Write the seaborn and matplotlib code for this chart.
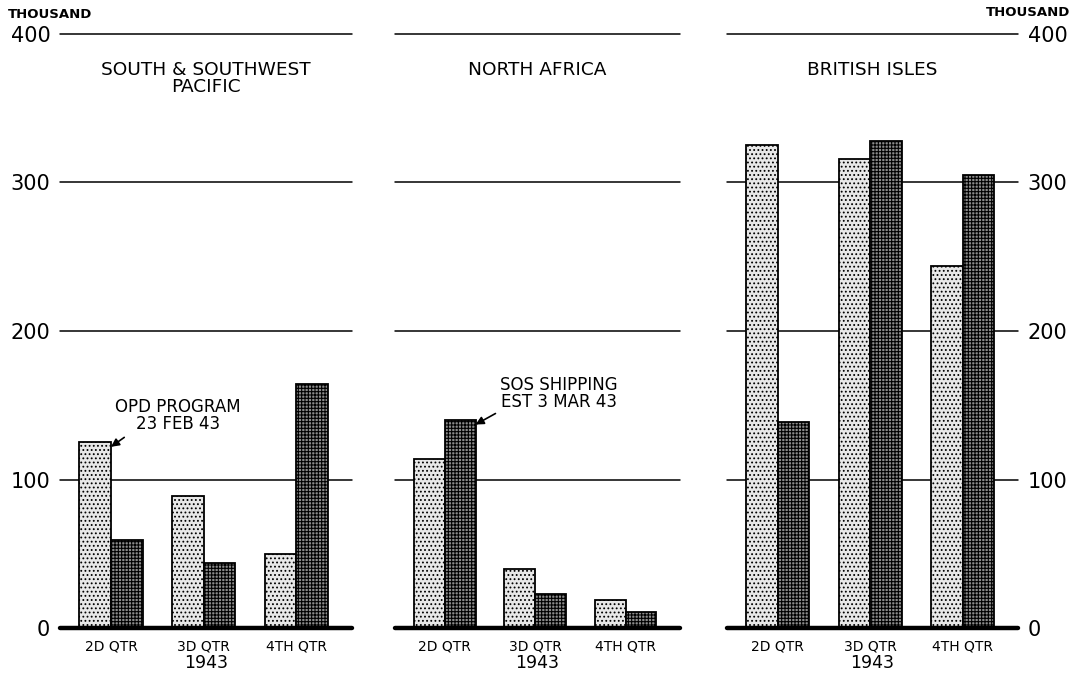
import matplotlib
matplotlib.use("Agg")
import matplotlib.pyplot as plt
import pandas as pd
import seaborn as sns

# values in thousands
theaters = ["SOUTH & SOUTHWEST\nPACIFIC", "NORTH AFRICA", "BRITISH ISLES"]
quarters = ["2D QTR", "3D QTR", "4TH QTR"]
series = ["OPD PROGRAM", "SOS SHIPPING EST"]
opd_program = [[125, 89, 50], [114, 40, 19], [325, 316, 244]]
sos_shipping = [[59, 44, 164], [140, 23, 11], [139, 328, 305]]
y_ticks = [0, 100, 200, 300, 400]

rows = []
for t, theater in enumerate(theaters):
    for q, quarter in enumerate(quarters):
        rows.append({"theater": theater, "quarter": quarter, "series": series[0], "value": opd_program[t][q]})
        rows.append({"theater": theater, "quarter": quarter, "series": series[1], "value": sos_shipping[t][q]})
df = pd.DataFrame(rows)

sns.set_style("white")
plt.rcParams["font.family"] = ["DejaVu Sans"]
plt.rcParams["hatch.linewidth"] = 0.8
plt.rcParams["text.color"] = "black"
plt.rcParams["xtick.color"] = "black"
plt.rcParams["ytick.color"] = "black"
plt.rcParams["axes.labelcolor"] = "black"

fig = plt.figure(figsize=(10.79, 6.77), dpi=100)
W, H = 1079, 677
lefts = [60, 395, 727]
widths = [292, 285, 291]
bottom_px, top_px = 628, 34

fills = {series[0]: ("#e8e8e8", "...."), series[1]: ("#8c8c8c", "+++++")}

for i, theater in enumerate(theaters):
    ax = fig.add_axes([lefts[i] / W, 1 - bottom_px / H, widths[i] / W, (bottom_px - top_px) / H])
    sub = df[df["theater"] == theater]
    sns.barplot(data=sub, x="quarter", y="value", hue="series", hue_order=series,
                order=quarters, width=0.68, gap=0, palette=["white", "white"],
                edgecolor="black", linewidth=1.3, legend=False, ax=ax, zorder=2)
    for cont, name in zip(ax.containers, series):
        fc, hatch = fills[name]
        for bar in cont:
            bar.set_facecolor(fc)
            bar.set_hatch(hatch)

    ax.set_ylim(0, 400)
    ax.set_xlim(-0.55, 2.6)
    for v in y_ticks[1:]:
        ax.axhline(v, color="black", lw=1.1, zorder=0.5, clip_on=False)
    ax.axhline(0, color="black", lw=3.2, zorder=3, clip_on=False)

    for s in ax.spines.values():
        s.set_visible(False)
    ax.set_yticks(y_ticks)
    ax.tick_params(axis="both", length=0)
    ax.tick_params(axis="x", pad=8, labelsize=10)
    ax.set_ylabel("")
    ax.set_xlabel("1943", fontsize=12.5, labelpad=1)
    if i == 0:
        ax.tick_params(axis="y", labelleft=True, labelright=False, pad=7, labelsize=15)
    elif i == 2:
        ax.yaxis.tick_right()
        ax.tick_params(axis="y", labelleft=False, labelright=True, pad=7, labelsize=15)
    else:
        ax.tick_params(axis="y", labelleft=False, labelright=False)

    ax.text(0.5, 0.955, theater, transform=ax.transAxes, ha="center", va="top",
            fontsize=13.3, linespacing=0.95)

    if i == 0:
        ax.annotate("OPD PROGRAM\n23 FEB 43", xy=(0.0, opd_program[0][0] - 3),
                    xytext=(0.72, 143), ha="center", va="center", fontsize=12,
                    linespacing=0.95,
                    arrowprops=dict(arrowstyle="-|>", color="black", lw=1.2,
                                    shrinkA=1, shrinkB=0, relpos=(0.12, 0.0)))
    if i == 1:
        ax.annotate("SOS SHIPPING\nEST 3 MAR 43", xy=(0.34, sos_shipping[1][0] - 3),
                    xytext=(1.26, 158), ha="center", va="center", fontsize=12,
                    linespacing=0.95,
                    arrowprops=dict(arrowstyle="-|>", color="black", lw=1.2,
                                    shrinkA=1, shrinkB=0, relpos=(0.0, 0.0)))

fig.text(8 / W, 1 - 15 / H, "THOUSAND", ha="left", va="center", fontsize=9.5, weight="bold")
fig.text(1070 / W, 1 - 13 / H, "THOUSAND", ha="right", va="center", fontsize=9.5, weight="bold")

fig.savefig("out.png", dpi=100)
